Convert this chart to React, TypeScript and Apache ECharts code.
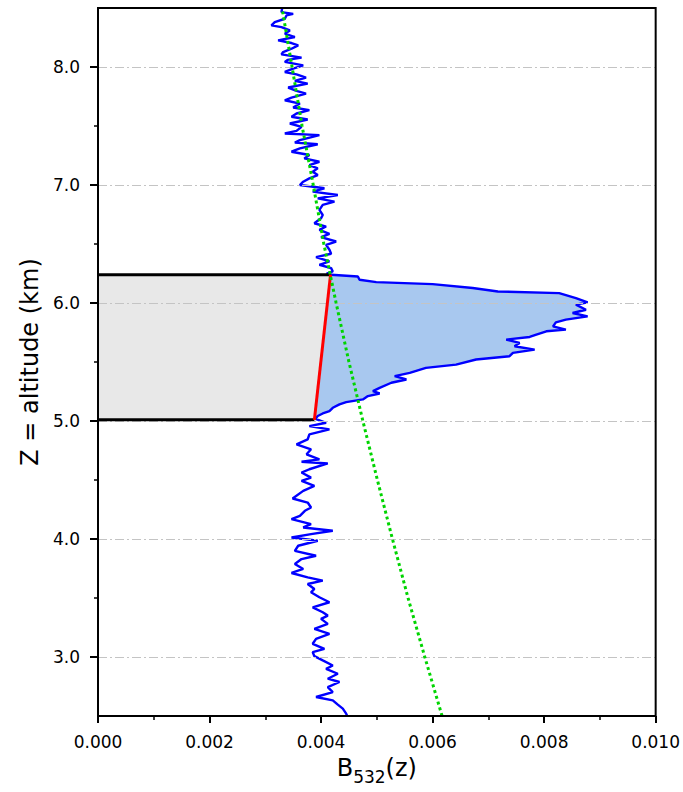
import React, { useEffect, useRef } from "react";
import * as echarts from "echarts";

// Lidar backscatter profile (altitude km, B532 in units of 1e-3)
const profileAlt = [
  8.5, 8.493, 8.465, 8.45, 8.437, 8.409, 8.381, 8.353, 8.338, 8.31, 8.282, 8.254, 8.226, 8.203, 8.183, 8.155,
  8.127, 8.107, 8.079, 8.06, 8.043, 8.014, 7.986, 7.958, 7.938, 7.91, 7.882, 7.859, 7.826, 7.797, 7.775, 7.741,
  7.718, 7.69, 7.657, 7.634, 7.606, 7.578, 7.555, 7.521, 7.493, 7.459,
  7.437, 7.423, 7.38, 7.36, 7.345, 7.31, 7.282, 7.254, 7.225, 7.197, 7.169, 7.141, 7.113, 7.084, 7.056, 7.028,
  7.0, 6.972, 6.944, 6.915, 6.887, 6.859, 6.831, 6.789, 6.746, 6.718, 6.676, 6.648, 6.62, 6.586, 6.558, 6.521,
  6.493, 6.451, 6.417, 6.389, 6.352, 6.324, 6.296, 6.267, 6.248,
  6.239, 6.225, 6.197, 6.177, 6.16, 6.127, 6.098, 6.084, 6.042, 6.005, 5.986, 5.943, 5.915, 5.887, 5.859, 5.836,
  5.802, 5.774, 5.76, 5.732, 5.712, 5.69, 5.662, 5.633, 5.605, 5.577, 5.549, 5.521, 5.478, 5.45, 5.408, 5.38,
  5.352, 5.324, 5.281, 5.253, 5.233, 5.211, 5.183, 5.16, 5.141, 5.112, 5.084, 5.064, 5.042, 5.019,
  4.985, 4.957, 4.929, 4.887, 4.844, 4.802, 4.76, 4.718, 4.675, 4.655, 4.64, 4.591, 4.563, 4.52, 4.492, 4.45,
  4.408, 4.343, 4.309, 4.267, 4.239, 4.196, 4.168, 4.126, 4.098, 4.07, 4.041, 4.013, 3.985, 3.943, 3.9, 3.858,
  3.83, 3.788, 3.746, 3.712, 3.675, 3.647, 3.619, 3.577, 3.548, 3.506, 3.464, 3.421, 3.379, 3.351, 3.323, 3.281,
  3.238, 3.196, 3.154, 3.112, 3.069, 3.041, 3.007, 2.971, 2.928, 2.9, 2.858, 2.816, 2.788, 2.745, 2.703, 2.661,
  2.633, 2.596, 2.562, 2.52, 2.5,
];
const profileB = [
  3.31, 3.30, 3.29, 3.50, 3.38, 3.35, 3.17, 3.11, 3.29, 3.44, 3.35, 3.53, 3.23, 3.47, 3.59, 3.47,
  3.32, 3.29, 3.65, 3.40, 3.35, 3.68, 3.50, 3.35, 3.56, 3.73, 3.53, 3.76, 3.41, 3.56, 3.73, 3.47,
  3.35, 3.62, 3.50, 3.79, 3.56, 3.47, 3.76, 3.44, 3.65, 3.56,
  3.35, 3.97, 3.62, 3.53, 3.94, 3.62, 3.47, 3.79, 3.70, 3.97, 3.79, 3.94, 3.85, 3.94, 3.79, 3.68,
  3.62, 4.06, 3.85, 4.30, 3.94, 4.24, 4.03, 3.97, 4.03, 4.00, 3.88, 4.09, 3.97, 4.15, 4.00, 4.27,
  4.09, 4.15, 4.18, 3.91, 4.15, 3.97, 4.18, 4.21, 4.10,
  4.18, 4.66, 4.69, 4.99, 6.00, 6.72, 7.17, 8.27, 8.57, 8.78, 8.57, 8.75, 8.51, 8.78, 8.39, 8.21,
  8.16, 8.39, 8.04, 7.86, 7.74, 7.32, 7.56, 7.47, 7.83, 7.44, 7.38, 6.78, 6.42, 5.88, 5.59, 5.32,
  5.53, 5.26, 5.05, 4.93, 5.05, 4.84, 4.75, 4.45, 4.33, 4.21, 4.15, 4.03, 3.94, 3.90,
  4.09, 3.79, 4.15, 3.79, 3.76, 3.56, 3.82, 3.74, 3.97, 3.65, 4.12, 3.79, 3.65, 3.82, 3.65, 3.88,
  3.68, 3.49, 3.76, 3.82, 3.71, 3.62, 3.47, 3.82, 3.68, 4.21, 3.82, 3.47, 3.94, 3.59, 3.53, 3.91,
  3.65, 3.53, 3.68, 3.47, 3.76, 4.03, 3.76, 3.88, 3.82, 3.97, 4.15, 3.85, 4.03, 4.12, 4.00, 4.12,
  3.88, 4.15, 3.91, 3.85, 4.06, 3.85, 3.88, 4.03, 4.21, 4.09, 4.30, 4.12, 4.33, 4.12, 4.21, 3.91,
  4.21, 4.30, 4.39, 4.45, 4.47,
];

// Molecular (Rayleigh) reference curve
const molAlt = [2.5, 3.0, 3.5, 4.0, 4.5, 5.0, 5.5, 6.0, 6.5, 7.0, 7.5, 8.0, 8.5];
const molB = [6.17, 5.86, 5.56, 5.28, 5.01, 4.75, 4.50, 4.27, 4.05, 3.86, 3.66, 3.48, 3.30];

// Cloud layer boundaries
const cloudBaseAlt = 5.01;
const cloudTopAlt = 6.24;
const cloudBaseB = 3.88;
const cloudTopB = 4.17;

// Axis ticks
const xGridValues = [0.002, 0.004, 0.006, 0.008];
const yGridValues = [3, 4, 5, 6, 7, 8];
const yMajorTicks = [3, 4, 5, 6, 7, 8];
const yMinorTicks = [3.5, 4.5, 5.5, 6.5, 7.5];

const SCALE = 0.001;
const FONT = "DejaVu Sans";

export default function App() {
  const ref = useRef<HTMLDivElement>(null);
  useEffect(() => {
    if (!ref.current) return;
    const chart = echarts.init(ref.current, undefined, { renderer: "svg" });

    const profile = profileAlt.map((z, i) => [profileB[i] * SCALE, z]);
    const mol = molAlt.map((z, i) => [molB[i] * SCALE, z]);
    const cloudPts = profileAlt
      .map((z, i) => [profileB[i] * SCALE, z])
      .filter((p) => p[1] <= cloudTopAlt + 0.001 && p[1] >= cloudBaseAlt);
    const fillPoly = [[cloudTopB * SCALE, cloudTopAlt], ...cloudPts, [cloudBaseB * SCALE, cloudBaseAlt]];
    const grayPoly = [
      [0, cloudBaseAlt],
      [cloudBaseB * SCALE, cloudBaseAlt],
      [cloudTopB * SCALE, cloudTopAlt],
      [0, cloudTopAlt],
    ];

    const polySeries = (poly: number[][], fill: string, z: number) => ({
      type: "custom",
      silent: true,
      z,
      data: [[0, cloudBaseAlt]],
      renderItem: (_p: any, api: any) => ({
        type: "polygon",
        shape: { points: poly.map((pt) => api.coord(pt)) },
        style: { fill, stroke: "none" },
      }),
    });

    const noSplit = { show: false };

    chart.setOption({
      animation: false,
      backgroundColor: "#ffffff",
      grid: {
        left: 98,
        right: 27,
        top: 8,
        bottom: 76,
        show: true,
        borderColor: "#000",
        borderWidth: 2,
        backgroundColor: "transparent",
        z: 20,
      },
      xAxis: {
        type: "value",
        min: 0,
        max: 0.01,
        interval: 0.002,
        name: "{b|B}{s|532}{b|(z)}",
        nameLocation: "middle",
        nameGap: 40,
        nameTextStyle: {
          rich: {
            b: { fontFamily: FONT, fontSize: 24, color: "#000", lineHeight: 30, verticalAlign: "top" },
            s: { fontFamily: FONT, fontSize: 17, color: "#000", lineHeight: 30, verticalAlign: "top", padding: [12, 0, 0, 0] },
          },
        },
        axisLine: { show: false, onZero: false },
        axisTick: { show: true, length: 7, lineStyle: { color: "#000", width: 2 } },
        minorTick: { show: true, splitNumber: 2, length: 4, lineStyle: { color: "#000", width: 1.5 } },
        axisLabel: {
          margin: 17,
          fontFamily: FONT,
          fontSize: 17,
          color: "#000",
          formatter: (v: number) => v.toFixed(3),
        },
        splitLine: noSplit,
        minorSplitLine: noSplit,
      },
      yAxis: [
        {
          type: "value",
          min: 2.5,
          max: 8.5,
          interval: 0.5,
          name: "Z = altitude (km)",
          nameLocation: "middle",
          nameGap: 56,
          nameTextStyle: { fontFamily: FONT, fontSize: 24, color: "#000" },
          axisLine: { show: false, onZero: false },
          axisTick: { show: true, length: 8, customValues: yMajorTicks, lineStyle: { color: "#000", width: 2 } },
          axisLabel: {
            margin: 18,
            fontFamily: FONT,
            fontSize: 17,
            color: "#000",
            customValues: yMajorTicks,
            formatter: (v: number) => v.toFixed(1),
          },
          splitLine: noSplit,
        },
        {
          type: "value",
          min: 2.5,
          max: 8.5,
          interval: 0.5,
          position: "left",
          axisLine: { show: false, onZero: false },
          axisTick: { show: true, length: 4, customValues: yMinorTicks, lineStyle: { color: "#000", width: 1.5 } },
          axisLabel: { show: false },
          splitLine: noSplit,
        },
      ],
      series: [
        polySeries(grayPoly, "#e8e8e8", 1),
        {
          type: "line",
          data: [],
          z: 2,
          silent: true,
          markLine: {
            silent: true,
            symbol: ["none", "none"],
            label: { show: false },
            lineStyle: { color: "#c4c4c4", width: 1, type: [9, 3, 2, 3] },
            data: [
              ...xGridValues.map((v) => ({ xAxis: v })),
              ...yGridValues.map((v) => ({ yAxis: v })),
            ],
          },
        },
        polySeries(fillPoly, "#a8c8ef", 3),
        {
          type: "line",
          data: profile,
          z: 4,
          showSymbol: false,
          symbol: "none",
          silent: true,
          lineStyle: { color: "#0000ff", width: 2.4 },
        },
        {
          type: "line",
          data: [[0, cloudBaseAlt], [cloudBaseB * SCALE, cloudBaseAlt]],
          z: 5,
          symbol: "none",
          silent: true,
          lineStyle: { color: "#000", width: 3 },
        },
        {
          type: "line",
          data: [[0, cloudTopAlt], [cloudTopB * SCALE, cloudTopAlt]],
          z: 5,
          symbol: "none",
          silent: true,
          lineStyle: { color: "#000", width: 3 },
        },
        {
          type: "line",
          data: [[cloudBaseB * SCALE, cloudBaseAlt], [cloudTopB * SCALE, cloudTopAlt]],
          z: 6,
          symbol: "none",
          silent: true,
          lineStyle: { color: "#ff0000", width: 3 },
        },
        {
          type: "line",
          data: mol,
          z: 7,
          symbol: "none",
          smooth: false,
          silent: true,
          lineStyle: { color: "#00d400", width: 3, type: [3, 3] },
        },
      ],
    });
    return () => chart.dispose();
  }, []);
  return <div ref={ref} style={{ position: "absolute", left: 0, top: 0, width: 683, height: 792 }} />;
}
